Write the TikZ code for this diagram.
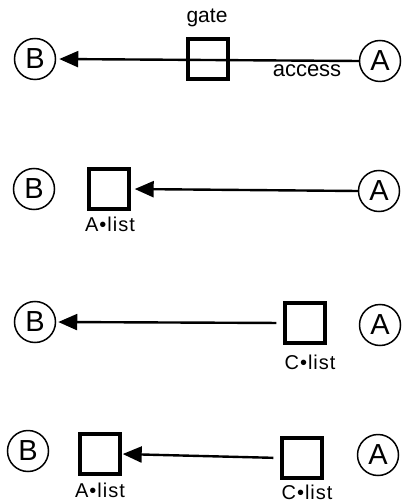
\documentclass[tikz,border=0pt]{standalone}
\usepackage{fontspec}
\setmainfont{Liberation Sans}
\newfontfamily\lblfont[LetterSpace=5]{Liberation Sans}
\usetikzlibrary{arrows.meta}
\begin{document}
\begin{tikzpicture}[x=1pt,y=-1pt,
  circ/.style={circle,draw,line width=1.5pt,minimum size=41pt,inner sep=0pt,font=\fontsize{29}{29}\selectfont},
  gbox/.style={draw,line width=3.4pt,minimum size=40pt,inner sep=0pt},
  lbl/.style={font=\lblfont\fontsize{20}{20}\selectfont,inner sep=0pt},
  txt/.style={font=\fontsize{21}{21}\selectfont,inner sep=0pt},
  conn/.style={line width=2.4pt,-{Triangle[length=19pt,width=16pt]}},
]
\useasboundingbox (0,0) rectangle (401,502);
% row 1
\node[circ] (B1) at (35,59) {B};
\node[circ] (A1) at (380,61) {A};
\node[gbox] (G1) at (208,59) {};
\node[txt] (gate) at (207,18) {gate};
\node[txt,font=\fontsize{22}{22}\selectfont] (access) at (307,71) {access};
\draw[conn,shorten >=3pt] (A1.west) -- (B1.east);
% row 2
\node[circ] (B2) at (34,189) {B};
\node[circ] (A2) at (379,191) {A};
\node[gbox] (L2) at (109,189) {};
\node[lbl] (L2t) at (110,224) {A•list};
\draw[conn,shorten >=4pt] (A2.west) -- (L2.east);
% row 3
\node[circ] (B3) at (35,322) {B};
\node[circ] (A3) at (380,325) {A};
\node[gbox] (C3) at (305,323) {};
\node[lbl] (C3t) at (310,362) {C•list};
\draw[conn,shorten <=7pt,shorten >=2pt] (C3.west) -- (B3.east);
% row 4
\node[circ] (B4) at (28,451) {B};
\node[circ] (A4) at (378,455) {A};
\node[gbox] (L4) at (100,454) {};
\node[gbox] (C4) at (302,458) {};
\node[lbl] (L4t) at (100,490) {A•list};
\node[lbl] (C4t) at (307,492) {C•list};
\draw[conn,shorten <=7pt,shorten >=1pt] (C4.west) -- (L4.east);
\end{tikzpicture}
\end{document}
